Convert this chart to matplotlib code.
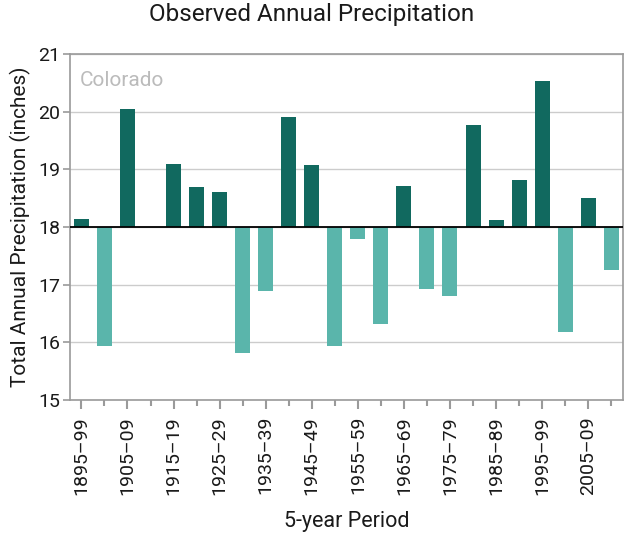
import matplotlib.pyplot as plt
import numpy as np

plt.rcParams['font.family'] = ['Roboto', 'DejaVu Sans']

starts = list(range(1895, 2015, 5))
periods = [f"{s}\u2013{str(s + 4)[2:]}" for s in starts]
precip = [18.14, 15.93, 20.05, 18.0, 19.10, 18.69, 18.60, 15.82, 16.89, 19.90,
          19.08, 15.93, 17.80, 16.31, 18.71, 16.93, 16.81, 19.77, 18.12, 18.82,
          20.53, 16.18, 18.51, 17.25]
baseline = 18.0

dark = '#11695f'
light = '#5ab5ab'
grey = '#9a9a9a'
txt = '#1a1a1a'

fig = plt.figure(figsize=(6.24, 5.33), dpi=100)
ax = fig.add_axes([0.112, 0.2495, 0.886, 0.6492])

x = np.arange(len(precip))
vals = np.array(precip)
colors = [dark if v >= baseline else light for v in vals]
ax.bar(x, vals - baseline, bottom=baseline, width=0.65, color=colors, zorder=3)
ax.axhline(baseline, color='black', linewidth=1.3, zorder=4)

ax.set_xlim(-0.5, len(precip) - 0.5)
ax.set_ylim(15, 21)
ax.set_yticks([15, 16, 17, 18, 19, 20, 21])
ax.yaxis.grid(True, color='#cccccc', linewidth=1, zorder=0)

ax.set_xticks(x[::2])
ax.set_xticklabels(periods[::2], rotation=90)
ax.set_xticks(x[1::2], minor=True)

for s in ax.spines.values():
    s.set_color(grey)
    s.set_linewidth(1.2)
ax.tick_params(axis='x', which='major', length=6.5, width=1.5, color=grey,
               labelsize=14, pad=5, labelcolor=txt)
ax.tick_params(axis='x', which='minor', length=4, width=1.5, color=grey)
ax.tick_params(axis='y', length=5, width=1.2, color=grey, labelsize=14, pad=2,
               labelcolor=txt)

ax.text(0.018, 0.95, 'Colorado', transform=ax.transAxes, fontsize=15,
        color='#bbbbbb', va='top', ha='left')
ax.set_ylabel('Total Annual Precipitation (inches)', fontsize=15,
              color=txt, labelpad=5)
ax.set_xlabel('5-year Period', fontsize=15.5, color=txt, labelpad=12)
fig.suptitle('Observed Annual Precipitation', fontsize=17.5,
             color=txt, x=0.5, y=0.995, va='top')

fig.savefig('out.png', dpi=100)
